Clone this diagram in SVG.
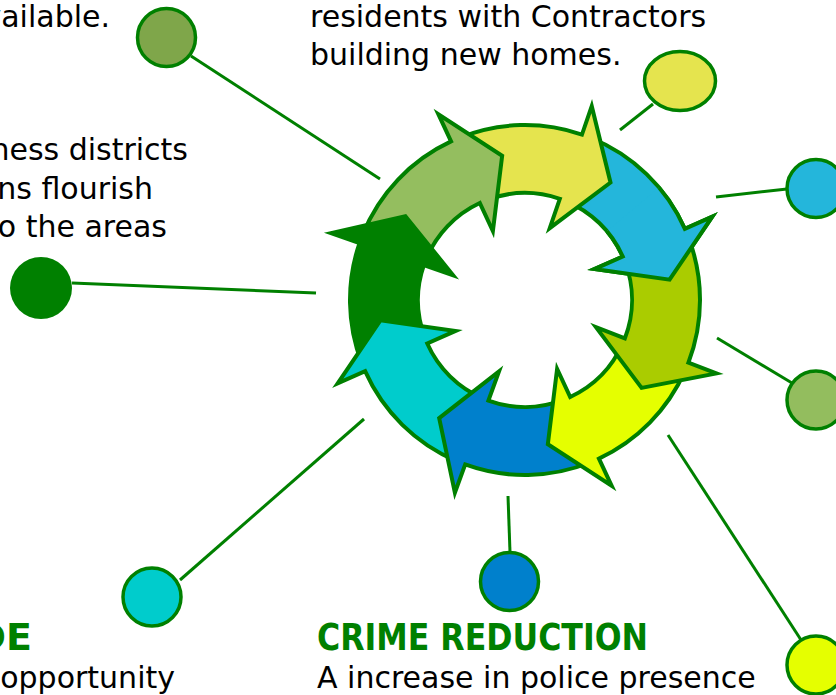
<svg xmlns="http://www.w3.org/2000/svg" xmlns:xlink="http://www.w3.org/1999/xlink" width="836" height="695" viewBox="0 0 836 695">
<style>
.body{font-family:"DejaVu Sans","Liberation Sans",sans-serif;font-size:30px;fill:#000}
.head{font-family:"DejaVu Sans","Liberation Sans",sans-serif;font-size:38px;font-weight:bold;fill:#008000}
.node{stroke:#008000;stroke-width:3.5}
.conn{stroke:#008000;stroke-width:3;fill:none}
.arr{stroke:#008000;stroke-width:4;stroke-linejoin:miter;stroke-miterlimit:12}
</style>
<defs>
<clipPath id="wedge"><polygon points="525,300 724,133 769,211 784,323"/></clipPath>
</defs>
<rect width="836" height="695" fill="#fff"/>

<g id="connectors">
<line class="conn" x1="191" y1="56" x2="380" y2="179"/>
<line class="conn" x1="620" y1="130" x2="653" y2="104"/>
<line class="conn" x1="716" y1="197" x2="787" y2="189"/>
<line class="conn" x1="72" y1="283" x2="316" y2="293"/>
<line class="conn" x1="717" y1="338" x2="792" y2="383"/>
<line class="conn" x1="668" y1="435" x2="803" y2="643"/>
<line class="conn" x1="508" y1="496" x2="510" y2="552"/>
<line class="conn" x1="180" y1="580" x2="364" y2="419"/>
</g>

<g id="cycle">
<path id="a7" class="arr" fill="#24B6DB" d="M590.56,137.74 A175,175 0 0 1 684.87,228.82 L712.28,216.62 L669.58,279.68 L594.43,269.09 L622.75,256.48 A107,107 0 0 0 565.08,200.79 Z"/>
<path id="a6" class="arr" fill="#E5E44E" d="M459.44,137.74 A175,175 0 0 1 581.97,134.53 L591.74,106.17 L610.5,182.5 L549.74,228.14 L559.84,198.83 A107,107 0 0 0 484.92,200.79 Z"/>
<path id="a5" class="arr" fill="#94BE5F" d="M362.74,234.44 A175,175 0 0 1 451.04,141.40 L438.36,114.21 L502.16,155.80 L492.88,231.12 L479.78,203.02 A107,107 0 0 0 425.79,259.92 Z"/>
<path id="a4" class="arr" fill="#008000" d="M361.62,362.71 A175,175 0 0 1 359.53,243.03 L331.17,233.26 L405.40,216.26 L453.14,275.26 L423.83,265.16 A107,107 0 0 0 425.11,338.35 Z"/>
<path id="a3" class="arr" fill="#00CCCC" d="M456.62,461.09 A175,175 0 0 1 365.13,371.18 L337.72,383.38 L380.42,320.32 L455.57,330.91 L427.25,343.52 A107,107 0 0 0 483.19,398.49 Z"/>
<path id="a2" class="arr" fill="#0080CC" d="M590.56,462.26 A175,175 0 0 1 465.15,464.45 L454.89,492.64 L439.18,418.12 L499.01,371.42 L488.40,400.55 A107,107 0 0 0 565.08,399.21 Z"/>
<path id="a1" class="arr" fill="#E5FF00" d="M684.87,371.18 A175,175 0 0 1 598.96,458.60 L611.64,485.79 L547.84,444.20 L557.12,368.88 L570.22,396.98 A107,107 0 0 0 622.75,343.52 Z"/>
<path id="a0" class="arr" fill="#AACC00" d="M688.38,237.29 A175,175 0 0 1 688.38,362.71 L716.38,373.47 L641.60,387.87 L595.95,327.24 L624.89,338.35 A107,107 0 0 0 624.89,261.65 Z"/>
<use xlink:href="#a7" href="#a7" clip-path="url(#wedge)"/>
</g>

<g id="node-olive-top"><circle class="node" cx="166.5" cy="37.5" r="29" fill="#7FA64A"/></g>
<g id="node-yellow"><ellipse class="node" cx="680" cy="81" rx="35.5" ry="29.5" fill="#E5E44E"/></g>
<g id="node-blue-right"><circle class="node" cx="816" cy="188.5" r="29" fill="#24B6DB"/></g>
<g id="node-darkgreen"><circle cx="41" cy="288" r="31" fill="#008000"/></g>
<g id="node-olive-right"><circle class="node" cx="816" cy="400" r="29" fill="#93BD5E"/></g>
<g id="node-yellow-bright"><circle class="node" cx="816" cy="665" r="29" fill="#E5FF00"/></g>
<g id="node-blue-bottom"><circle class="node" cx="509.5" cy="581.5" r="29" fill="#0080CC"/></g>
<g id="node-cyan"><circle class="node" cx="152" cy="597" r="29" fill="#00CCCC"/></g>

<g id="texts">
<text class="body" x="110" y="27" text-anchor="end">vailable.</text>
<text class="body" x="310" y="27">residents with Contractors</text>
<text class="body" x="310" y="65">building new homes.</text>
<text class="body" x="188" y="160" text-anchor="end">ness districts</text>
<text class="body" x="153" y="199" text-anchor="end">ns flourish</text>
<text class="body" x="167" y="237" text-anchor="end">o the areas</text>
<text class="head" x="32" y="650" text-anchor="end">DE</text>
<text class="body" x="175" y="688" text-anchor="end">opportunity</text>
<text class="head" x="317" y="650" textLength="331" lengthAdjust="spacingAndGlyphs">CRIME REDUCTION</text>
<text class="body" x="317" y="688">A increase in police presence</text>
</g>
</svg>
